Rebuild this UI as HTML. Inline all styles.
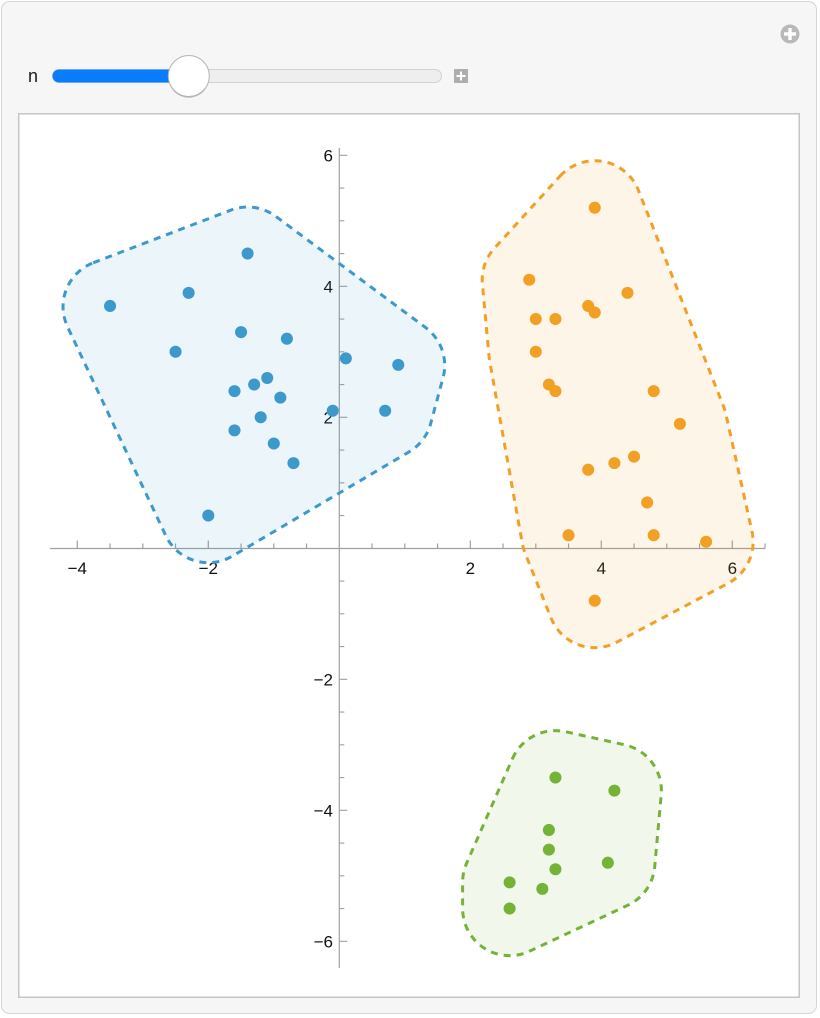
<!DOCTYPE html>
<html>
<head>
<meta charset="utf-8">
<style>
  html,body{margin:0;padding:0;background:#ffffff;}
  body{width:820px;height:1018px;overflow:hidden;}
  svg{display:block;}
  text{font-family:"Liberation Sans", Arial, sans-serif;}
</style>
</head>
<body>
<svg width="820" height="1018" viewBox="0 0 820 1018" xmlns="http://www.w3.org/2000/svg">
  <!-- outer panel -->
  <rect x="1.5" y="1.5" width="815" height="1012" rx="8" ry="8" fill="#F6F6F6" stroke="#D6D6D6" stroke-width="1"/>

  <!-- top-right plus icon -->
  <circle cx="790" cy="34" r="9.5" fill="#B9B9B9"/>
  <rect x="788.3" y="28" width="3.4" height="12" fill="#ffffff"/>
  <rect x="784" y="32.3" width="12" height="3.4" fill="#ffffff"/>

  <!-- slider -->
  <text x="28" y="82" font-size="18" fill="#1a1a1a">n</text>
  <rect x="52.5" y="69.5" width="389" height="13" rx="6.5" ry="6.5" fill="#EEEEEE" stroke="#D2D2D2" stroke-width="1"/>
  <rect x="52.5" y="69.5" width="140" height="13" rx="6.5" ry="6.5" fill="#0A7DFF"/>
  <circle cx="188.8" cy="77.2" r="20.5" fill="#8a8a8a" opacity="0.6"/>
  <circle cx="188.8" cy="76" r="20.5" fill="#ffffff" stroke="#B4B4B4" stroke-width="1"/>
  <rect x="454" y="69" width="14" height="14" fill="#ADADAD"/>
  <rect x="460" y="71.5" width="2" height="9" fill="#ffffff"/>
  <rect x="456.5" y="75" width="9" height="2" fill="#ffffff"/>

  <!-- plot frame -->
  <rect x="18.75" y="113.75" width="780.5" height="883.5" fill="#ffffff" stroke="#C6C6C6" stroke-width="1.5"/>

  <!-- axes -->
  <g stroke="#A0A0A0" stroke-width="1.2" fill="none">
    <line x1="50" y1="548.5" x2="765" y2="548.5"/>
    <line x1="339.3" y1="148" x2="339.3" y2="968"/>
    <!-- x ticks (minor every 0.5, major at even) -->
    <path d="
      M77.3,548.5 v-8 M110.05,548.5 v-5 M142.8,548.5 v-5 M175.55,548.5 v-5
      M208.3,548.5 v-8 M241.05,548.5 v-5 M273.8,548.5 v-5 M306.55,548.5 v-5
      M372.05,548.5 v-5 M404.8,548.5 v-5 M437.55,548.5 v-5
      M470.3,548.5 v-8 M503.05,548.5 v-5 M535.8,548.5 v-5 M568.55,548.5 v-5
      M601.3,548.5 v-8 M634.05,548.5 v-5 M666.8,548.5 v-5 M699.55,548.5 v-5
      M732.3,548.5 v-8 M765.05,548.5 v-5"/>
    <!-- y ticks -->
    <path d="
      M339.3,155.3 h8 M339.3,188.05 h5 M339.3,220.8 h5 M339.3,253.55 h5
      M339.3,286.3 h8 M339.3,319.05 h5 M339.3,351.8 h5 M339.3,384.55 h5
      M339.3,417.3 h8 M339.3,450.05 h5 M339.3,482.8 h5 M339.3,515.55 h5
      M339.3,581.05 h5 M339.3,613.8 h5 M339.3,646.55 h5
      M339.3,679.3 h8 M339.3,712.05 h5 M339.3,744.8 h5 M339.3,777.55 h5
      M339.3,810.3 h8 M339.3,843.05 h5 M339.3,875.8 h5 M339.3,908.55 h5
      M339.3,941.3 h8"/>
  </g>

  <!-- tick labels -->
  <g font-size="17" fill="#111111">
    <text x="77.3" y="574" text-anchor="middle">−4</text>
    <text x="208.3" y="574" text-anchor="middle">−2</text>
    <text x="470.3" y="574" text-anchor="middle">2</text>
    <text x="601.3" y="574" text-anchor="middle">4</text>
    <text x="732.3" y="574" text-anchor="middle">6</text>

    <text x="333" y="161.5" text-anchor="end">6</text>
    <text x="333" y="292.5" text-anchor="end">4</text>
    <text x="333" y="423.5" text-anchor="end">2</text>
    <text x="333" y="685.5" text-anchor="end">−2</text>
    <text x="333" y="816.5" text-anchor="end">−4</text>
    <text x="333" y="947.5" text-anchor="end">−6</text>
  </g>

  <!-- blue cluster region -->
  <path d="M93.2,262.8 L230.9,210.1 A47,47 0 0 1 275.7,216.3 L425.7,327.6 A47,47 0 0 1 443.1,377.5 L430.7,423.5 A47,47 0 0 1 409.2,451.8 L232.2,556.2 A47,47 0 0 1 165.8,535.7 L67.5,326.7 A47,47 0 0 1 93.2,262.8 Z"
        fill="#3D99CC" fill-opacity="0.1" stroke="#3D99CC" stroke-width="3" stroke-dasharray="7 6"/>

  <!-- orange cluster region -->
  <path d="M560.0,176.1 A47,47 0 0 1 638.5,190.5 L723.6,406.6 A47,47 0 0 1 725.8,413.7 L752.0,531.6 A47,47 0 0 1 728.1,583.3 L616.7,642.2 A47,47 0 0 1 551.1,618.2 L524.9,552.7 A47,47 0 0 1 522.3,543.5 L489.5,360.1 A47,47 0 0 1 489.0,356.1 L482.4,284.0 A47,47 0 0 1 494.5,248.1 Z"
        fill="#F2A024" fill-opacity="0.1" stroke="#F2A024" stroke-width="3" stroke-dasharray="7 6"/>

  <!-- green cluster region -->
  <path d="M512.4,758.7 A47,47 0 0 1 565.6,731.7 L624.6,744.8 A47,47 0 0 1 661.2,794.9 L654.7,867.0 A47,47 0 0 1 627.7,905.3 L529.5,951.2 A47,47 0 0 1 462.6,908.55 L462.6,882.35 A47,47 0 0 1 466.5,863.5 Z"
        fill="#74B336" fill-opacity="0.1" stroke="#74B336" stroke-width="3" stroke-dasharray="7 6"/>

  <!-- points -->
  <g transform="translate(339.3,548.3) scale(65.5,-65.5)">
    <g fill="#3D99CC">
      <circle cx="-3.5" cy="3.7" r="0.092"/>
      <circle cx="-2.3" cy="3.9" r="0.092"/>
      <circle cx="-1.4" cy="4.5" r="0.092"/>
      <circle cx="-2.5" cy="3" r="0.092"/>
      <circle cx="-1.5" cy="3.3" r="0.092"/>
      <circle cx="-0.8" cy="3.2" r="0.092"/>
      <circle cx="0.1" cy="2.9" r="0.092"/>
      <circle cx="0.9" cy="2.8" r="0.092"/>
      <circle cx="-1.1" cy="2.6" r="0.092"/>
      <circle cx="-1.3" cy="2.5" r="0.092"/>
      <circle cx="-1.6" cy="2.4" r="0.092"/>
      <circle cx="-0.9" cy="2.3" r="0.092"/>
      <circle cx="-1.2" cy="2" r="0.092"/>
      <circle cx="-0.1" cy="2.1" r="0.092"/>
      <circle cx="0.7" cy="2.1" r="0.092"/>
      <circle cx="-1.6" cy="1.8" r="0.092"/>
      <circle cx="-1" cy="1.6" r="0.092"/>
      <circle cx="-0.7" cy="1.3" r="0.092"/>
      <circle cx="-2" cy="0.5" r="0.092"/>
    </g>
    <g fill="#F2A024">
      <circle cx="3.9" cy="5.2" r="0.092"/>
      <circle cx="2.9" cy="4.1" r="0.092"/>
      <circle cx="4.4" cy="3.9" r="0.092"/>
      <circle cx="3" cy="3.5" r="0.092"/>
      <circle cx="3.3" cy="3.5" r="0.092"/>
      <circle cx="3.8" cy="3.7" r="0.092"/>
      <circle cx="3.9" cy="3.6" r="0.092"/>
      <circle cx="3" cy="3" r="0.092"/>
      <circle cx="3.2" cy="2.5" r="0.092"/>
      <circle cx="3.3" cy="2.4" r="0.092"/>
      <circle cx="4.8" cy="2.4" r="0.092"/>
      <circle cx="5.2" cy="1.9" r="0.092"/>
      <circle cx="3.8" cy="1.2" r="0.092"/>
      <circle cx="4.2" cy="1.3" r="0.092"/>
      <circle cx="4.5" cy="1.4" r="0.092"/>
      <circle cx="4.7" cy="0.7" r="0.092"/>
      <circle cx="3.5" cy="0.2" r="0.092"/>
      <circle cx="4.8" cy="0.2" r="0.092"/>
      <circle cx="5.6" cy="0.1" r="0.092"/>
      <circle cx="3.9" cy="-0.8" r="0.092"/>
    </g>
    <g fill="#74B336">
      <circle cx="3.3" cy="-3.5" r="0.092"/>
      <circle cx="4.2" cy="-3.7" r="0.092"/>
      <circle cx="3.2" cy="-4.3" r="0.092"/>
      <circle cx="3.2" cy="-4.6" r="0.092"/>
      <circle cx="3.3" cy="-4.9" r="0.092"/>
      <circle cx="4.1" cy="-4.8" r="0.092"/>
      <circle cx="2.6" cy="-5.1" r="0.092"/>
      <circle cx="3.1" cy="-5.2" r="0.092"/>
      <circle cx="2.6" cy="-5.5" r="0.092"/>
    </g>
  </g>
</svg>
</body>
</html>
